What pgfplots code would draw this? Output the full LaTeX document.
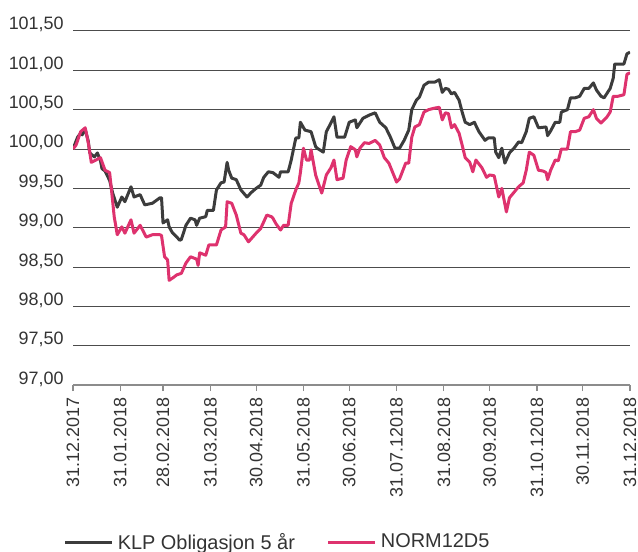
\documentclass[border=0pt]{standalone}
\usepackage{pgfplots}
\pgfplotsset{compat=1.18}
\usepackage{fontspec}
\setmainfont{Liberation Sans}

\definecolor{klp}{RGB}{60,60,60}
\definecolor{norm}{RGB}{222,50,110}

\begin{document}
\begin{tikzpicture}
  % page frame with the reference's margins round the plot area (axis sits at the origin)
  \useasboundingbox (-36.5bp,-83.5bp) rectangle (282.5bp,192.5bp);
  \begin{axis}[
      at={(0,0)}, anchor=south west,
      width=278.5bp, height=177bp,
      scale only axis,
      xmin=0, xmax=365,
      ymin=97, ymax=101.5,
      axis x line*=bottom,
      axis y line*=left,
      x axis line style={draw=black!45, line width=0.8bp},
      y axis line style={draw=none},
      ytick={97,97.5,...,101.5},
      ytick style={draw=none},
      xtick={0,31,59,90,120,151,181,212,243,273,304,334,365},
      xticklabels={31.12.2017,31.01.2018,28.02.2018,31.03.2018,30.04.2018,31.05.2018,30.06.2018,31.07.12018,31.08.2018,30.09.2018,31.10.12018,30.11.2018,31.12.2018},
      xtick style={draw=black!45, line width=0.6bp},
      tick align=outside,
      major tick length=3bp,
      x tick label style={rotate=90, anchor=east, inner xsep=3bp, inner ysep=0.5bp},
      y tick label style={anchor=base east, inner sep=1bp, xshift=-0.5bp, yshift=0.5bp},
      ymajorgrids,
      grid style={black!70, line width=0.5bp},
      tick label style={font=\fontsize{9}{11}\selectfont, text=black!80},
      /pgf/number format/.cd, fixed, fixed zerofill, precision=2, use comma, assume math mode=true,
      /pgfplots/.cd,
      legend columns=2,
      legend style={at={(-0.028,-0.445)}, anchor=west, draw=none, fill=none,
        font=\fontsize{10}{12}\selectfont, text=black!80,
        /tikz/every even column/.append style={column sep=14bp}},
      legend image code/.code={\draw[#1] (0bp,0bp) -- (23.5bp,0bp);},
      every axis plot/.append style={line width=1.5bp, line join=round},
    ]

    \addplot[klp] coordinates {
      (0,100.00)(3,100.15)(5,100.20)(6,100.18)(8,100.25)(10,100.10)(11,99.95)(14,99.90)(16,99.95)(18,99.85)
      (19,99.75)(21,99.72)(24,99.60)(26,99.44)(29,99.26)(32,99.39)(34,99.33)(38,99.52)(40,99.39)(44,99.42)
      (47,99.29)(52,99.31)(57,99.38)(58,99.38)(59,99.06)(62,99.10)(63,99.01)(65,98.94)(68,98.88)(70,98.84)
      (71,98.85)(74,99.03)(77,99.12)(80,99.10)(81,99.03)(83,99.12)(87,99.14)(88,99.22)(92,99.22)(94,99.48)
      (97,99.57)(99,99.58)(101,99.83)(102,99.73)(104,99.63)(107,99.61)(110,99.48)(114,99.39)(117,99.45)(120,99.50)
      (123,99.54)(125,99.64)(128,99.71)(131,99.70)(135,99.64)(136,99.71)(141,99.71)(143,99.86)(146,100.14)(148,100.14)
      (149,100.34)(152,100.24)(156,100.22)(159,100.03)(160,100.01)(164,99.96)(166,100.22)(169,100.33)(171,100.41)(173,100.15)
      (178,100.15)(181,100.34)(185,100.37)(186,100.27)(190,100.39)(194,100.43)(198,100.46)(201,100.34)(205,100.27)(208,100.15)
      (211,100.01)(214,100.01)(217,100.11)(220,100.24)(222,100.50)(225,100.62)(227,100.66)(230,100.81)(233,100.85)(237,100.85)
      (240,100.88)(242,100.72)(244,100.77)(246,100.76)(248,100.70)(250,100.72)(253,100.62)(255,100.47)(257,100.34)(260,100.31)
      (263,100.34)(266,100.22)(270,100.11)(272,100.14)(276,100.14)(277,99.96)(279,99.89)(281,100.01)(283,99.82)(286,99.95)
      (289,100.01)(292,100.09)(294,100.08)(297,100.22)(299,100.39)(302,100.41)(305,100.27)(310,100.28)(311,100.17)(313,100.23)
      (316,100.34)(319,100.34)(320,100.47)(324,100.50)(326,100.65)(329,100.65)(332,100.67)(335,100.77)(338,100.77)(341,100.84)
      (343,100.75)(346,100.67)(348,100.65)(350,100.71)(352,100.77)(354,100.90)(355,101.08)(361,101.08)(363,101.21)(365,101.23)
    };
    \addlegendentry{KLP Obligasjon 5 år}

    \addplot[norm] coordinates {
      (0,100.00)(2,100.05)(5,100.22)(8,100.27)(10,100.08)(12,99.83)(18,99.89)(21,99.73)(24,99.70)(25,99.52)
      (27,99.14)(29,98.91)(32,99.01)(34,98.93)(38,99.10)(40,98.93)(44,99.03)(48,98.88)(52,98.91)(57,98.91)
      (58,98.90)(60,98.63)(62,98.59)(63,98.33)(66,98.37)(68,98.40)(71,98.42)(74,98.55)(77,98.63)(81,98.60)
      (82,98.52)(83,98.68)(87,98.65)(89,98.78)(94,98.78)(97,98.97)(100,99.01)(101,99.33)(104,99.31)(107,99.16)
      (110,98.93)(112,98.91)(115,98.82)(120,98.93)(123,98.99)(127,99.16)(130,99.14)(131,99.12)(133,99.05)(136,98.97)
      (138,99.03)(141,99.03)(143,99.31)(146,99.48)(148,99.57)(149,99.70)(151,100.01)(153,99.86)(155,99.86)(156,99.99)
      (159,99.67)(160,99.61)(163,99.44)(166,99.67)(169,99.76)(171,99.86)(173,99.61)(177,99.63)(179,99.86)(182,100.03)
      (185,99.99)(186,99.90)(188,100.01)(191,100.08)(194,100.07)(198,100.11)(201,100.05)(204,99.89)(207,99.82)(211,99.63)
      (212,99.58)(214,99.62)(218,99.82)(220,99.82)(222,100.15)(224,100.28)(227,100.31)(230,100.47)(233,100.50)(237,100.52)
      (240,100.53)(242,100.37)(244,100.46)(246,100.45)(248,100.27)(250,100.31)(253,100.20)(255,100.05)(257,99.89)(260,99.83)
      (262,99.71)(264,99.86)(268,99.76)(271,99.64)(273,99.67)(276,99.66)(279,99.39)(281,99.50)(284,99.20)(286,99.38)
      (289,99.45)(292,99.52)(295,99.57)(297,99.73)(299,99.96)(302,99.92)(305,99.73)(308,99.72)(310,99.70)(311,99.61)
      (313,99.73)(316,99.86)(318,99.85)(320,100.00)(324,100.00)(326,100.22)(329,100.22)(332,100.24)(335,100.39)(338,100.41)
      (341,100.50)(343,100.39)(346,100.33)(350,100.41)(352,100.47)(354,100.67)(357,100.67)(361,100.69)(363,100.95)(365,100.97)
    };
    \addlegendentry{NORM12D5}

  \end{axis}
\end{tikzpicture}
\end{document}
